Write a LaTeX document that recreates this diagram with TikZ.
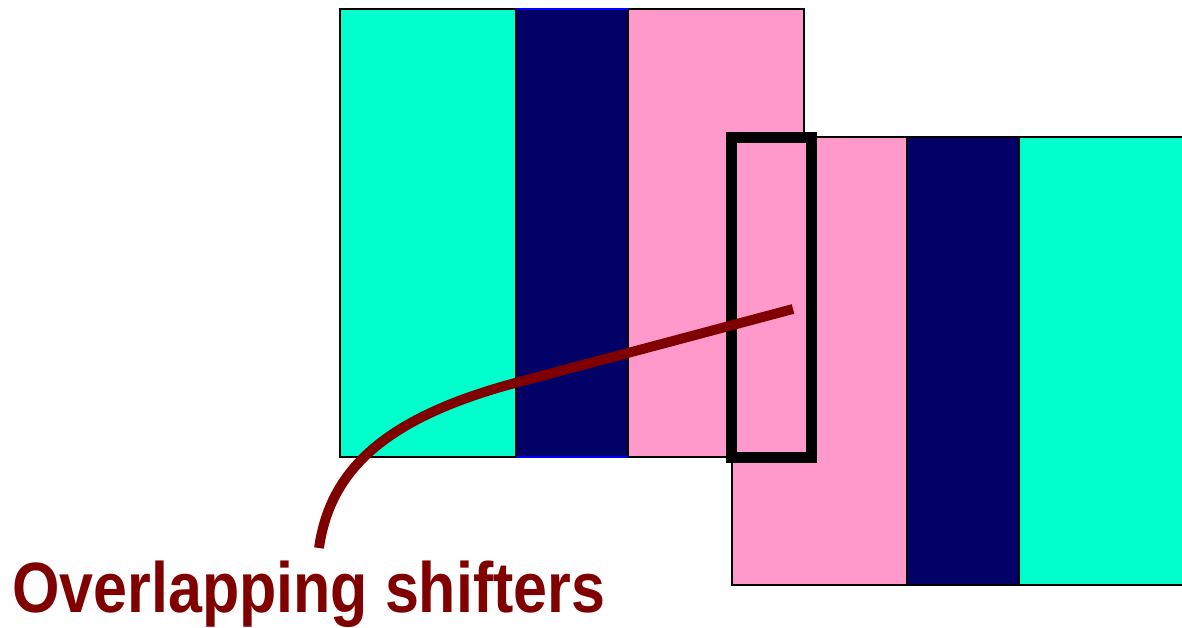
\documentclass[tikz,border=0pt]{standalone}
\usepackage{fontspec}
\newfontfamily\labelfont{Liberation Sans}
\definecolor{ShifterCyan}{HTML}{00FFCC}
\definecolor{ShifterNavy}{HTML}{000066}
\definecolor{ShifterPink}{HTML}{FF99CC}
\definecolor{LabelRed}{HTML}{800000}

\begin{document}
\begin{tikzpicture}[x=0.02cm, y=-0.02cm,
    stripe/.style={draw=black, line width=1.2pt},
    marker/.style={draw=black, line width=6.2pt},
    pointer/.style={draw=LabelRed, line width=5.6pt}]
    % White background and fixed margins
    \fill[white] (0,0) rectangle (1182,628);
    \useasboundingbox (0,0) rectangle (1182,628);

    % First mask: cyan | navy | pink
    \fill[ShifterCyan] (340,9) rectangle (516,457);
    \fill[ShifterNavy] (516,9) rectangle (628,457);
    \fill[ShifterPink] (628,9) rectangle (804,457);
    \draw[stripe] (340,9) rectangle (804,457);
    \draw[stripe] (516,9) -- (516,457);
    \draw[stripe] (628,9) -- (628,457);
    \draw[blue, line width=1.2pt] (516,9) -- (628,9);
    \draw[blue, line width=1.2pt] (516,457) -- (628,457);

    % Second mask: pink | navy | cyan, runs off the right edge
    \fill[ShifterPink] (732,137) rectangle (907,585);
    \fill[ShifterNavy] (907,137) rectangle (1019,585);
    \fill[ShifterCyan] (1019,137) rectangle (1190,585);
    \draw[stripe] (1190,137) -- (732,137) -- (732,585) -- (1190,585);
    \draw[stripe] (907,137) -- (907,585);
    \draw[stripe] (1019,137) -- (1019,585);

    % Overlap region
    \draw[marker] (731.5,137.5) rectangle (811.5,457.5);

    % Label and pointer
    \node[LabelRed, anchor=base west, inner sep=0pt,
        font=\labelfont\bfseries\fontsize{40.5}{45}\selectfont,
        xscale=0.857] (lbl) at (12,612) {Overlapping shifters};
    \coordinate (tail) at (319,548);
    \coordinate (tip) at (793,309);
    \draw[pointer] (tail) .. controls (330,470) and (385,418) .. (515,383) -- (tip);
\end{tikzpicture}
\end{document}
